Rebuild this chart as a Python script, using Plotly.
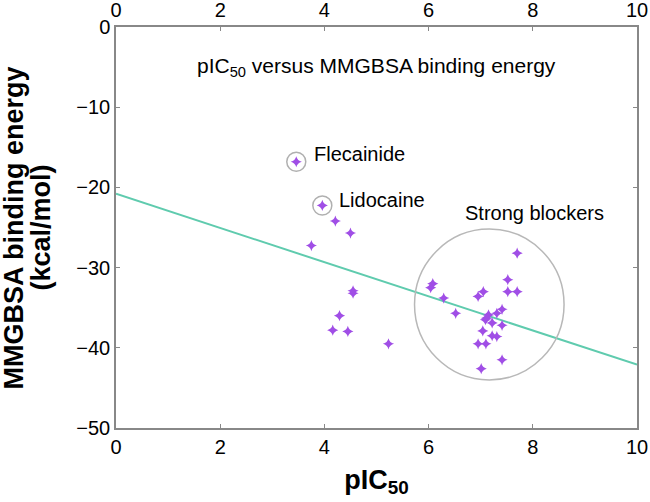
import plotly.graph_objects as go

# Data
pic50 = [3.46, 3.96, 4.21, 4.50, 3.75, 4.55, 4.55, 4.29, 4.16, 4.45, 5.23,
         7.70, 7.52, 7.52, 7.70, 6.08, 6.04, 6.29, 7.05, 6.95, 6.52, 7.41,
         7.31, 7.15, 7.11, 7.09, 7.22, 7.41, 7.04, 7.22, 7.31, 6.95, 7.10,
         7.41, 7.01]
energy = [-16.8, -22.25, -24.2, -25.7, -27.25, -32.9, -33.2, -36.0, -37.8, -37.96, -39.5,
          -28.2, -31.5, -33.0, -33.0, -32.0, -32.5, -33.8, -33.0, -33.6, -35.7, -35.2,
          -35.7, -35.9, -36.3, -36.5, -36.9, -37.2, -37.9, -38.5, -38.6, -39.5, -39.5,
          -41.5, -42.6]
fit_x = [0, 10]
fit_y = [-20.8, -42.1]
highlight_names = ["Flecainide", "Lidocaine"]
highlight_x = [3.46, 3.96]
highlight_y = [-16.8, -22.25]
x_ticks = [0, 2, 4, 6, 8, 10]
y_ticks = [0, -10, -20, -30, -40, -50]
y_title_lines = ["MMGBSA binding energy", "(kcal/mol)"]

FONT = "Liberation Sans, Arial, sans-serif"

fig = go.Figure()
fig.add_trace(go.Scatter(x=fit_x, y=fit_y, mode="lines",
                         line=dict(color="#5fcbae", width=2), hoverinfo="skip"))
fig.add_trace(go.Scatter(x=pic50, y=energy, mode="markers",
                         marker=dict(symbol="star-diamond", size=8, color="#a04ee6",
                                     line=dict(width=0))))
fig.add_trace(go.Scatter(x=highlight_x, y=highlight_y, mode="markers",
                         marker=dict(symbol="circle-open", size=19,
                                     color="#b0b0b0", line=dict(width=1.5))))
# invisible trace to show top axis
fig.add_trace(go.Scatter(x=fit_x, y=fit_y, xaxis="x2", mode="markers",
                         marker=dict(opacity=0), hoverinfo="skip"))

# Strong blockers circle
fig.add_shape(type="circle", xref="x", yref="y", x0=5.73, x1=8.60, y0=-44.0, y1=-25.2,
              line=dict(color="#b8b8b8", width=1.5))

ann_font = dict(family=FONT, size=20, color="black")
fig.add_annotation(x=5.0, y=-5.0, text="pIC<sub>50</sub> versus MMGBSA binding energy",
                   showarrow=False, font=dict(family=FONT, size=21, color="black"))
fig.add_annotation(x=3.77, y=-15.8, text=highlight_names[0], showarrow=False,
                   xanchor="left", font=ann_font)
fig.add_annotation(x=4.24, y=-21.6, text=highlight_names[1], showarrow=False,
                   xanchor="left", font=ann_font)
fig.add_annotation(x=8.03, y=-23.25, text="Strong blockers", showarrow=False, font=ann_font)

# y-axis title as two rotated lines
ytitle_font = dict(family=FONT, size=27, color="black")
for xp, line in zip([-0.196, -0.144], y_title_lines):
    fig.add_annotation(xref="paper", yref="paper", x=xp, y=0.5, text=f"<b>{line}</b>",
                       textangle=-90, showarrow=False, xanchor="center", yanchor="middle",
                       font=ytitle_font)

axis_common = dict(range=[0, 10], tickvals=x_ticks, ticks="inside", ticklen=4,
                   tickcolor="#888", showgrid=False, zeroline=False, automargin=False,
                   showline=True, linecolor="#888", linewidth=1.5,
                   tickfont=dict(family=FONT, size=20, color="black"))

fig.update_layout(
    width=650, height=502,
    margin=dict(l=116, r=13, t=27, b=74, autoexpand=False),
    paper_bgcolor="white", plot_bgcolor="white",
    showlegend=False,
    xaxis=dict(**axis_common, mirror=True,
               title=dict(text="<b>pIC<sub>50</sub></b>", font=dict(family=FONT, size=27, color="black"),
                          standoff=13)),
    xaxis2=dict(**axis_common, overlaying="x", side="top"),
    yaxis=dict(range=[-50, 0], tickvals=y_ticks, ticks="inside", ticklen=4,
               tickcolor="#888", showgrid=False, zeroline=False, automargin=False,
               showline=True, linecolor="#888", linewidth=1.5, mirror="ticks",
               tickfont=dict(family=FONT, size=20, color="black")),
)

fig.write_html("out.html", config={"displayModeBar": False},
               post_script="document.body.style.margin='0';")
